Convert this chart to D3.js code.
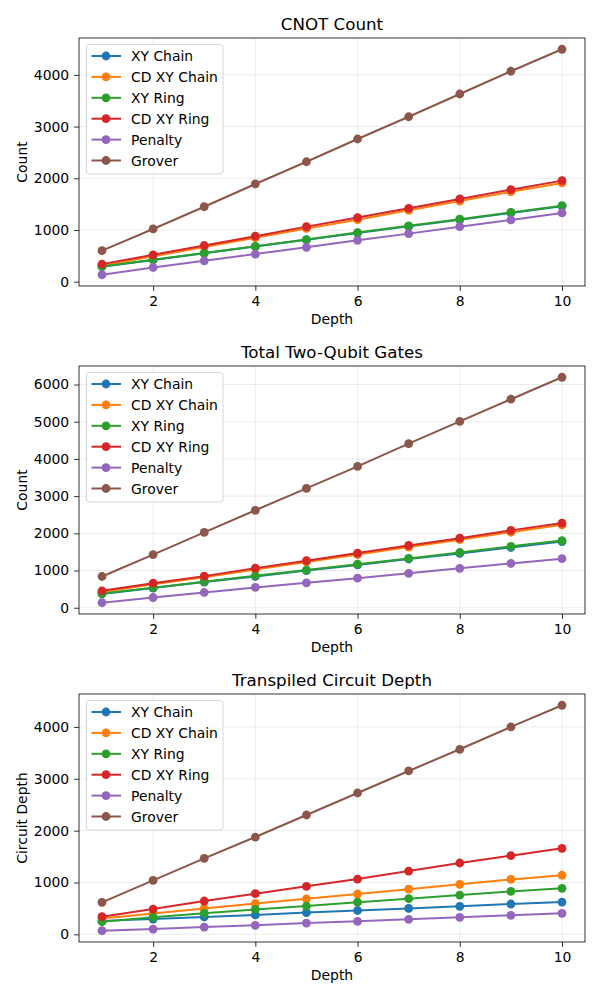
<!DOCTYPE html>
<html>
<head>
<meta charset="utf-8">
<script src="https://cdn.jsdelivr.net/npm/d3@7"></script>
<style>
  body { margin: 0; background: #fff; }
  svg { display: block; font-family: "DejaVu Sans", sans-serif; }
</style>
</head>
<body>
<div id="chart"></div>
<script>
// x values shared by all panels
const depths = [1, 2, 3, 4, 5, 6, 7, 8, 9, 10];
const seriesNames = ["XY Chain", "CD XY Chain", "XY Ring", "CD XY Ring", "Penalty", "Grover"];
const seriesColors = ["#1f77b4", "#ff7f0e", "#2ca02c", "#d62728", "#9467bd", "#8c564b"];
const xTicks = [2, 4, 6, 8, 10];

// CNOT Count
const cnotXYChain   = [290, 420, 550, 680, 810, 940, 1070, 1200, 1330, 1460];
const cnotCDXYChain = [310, 490, 670, 850, 1030, 1200, 1380, 1560, 1740, 1910];
const cnotXYRing    = [295, 425, 555, 685, 815, 950, 1080, 1210, 1340, 1470];
const cnotCDXYRing  = [340, 520, 700, 880, 1065, 1240, 1420, 1600, 1780, 1955];
const cnotPenalty   = [135, 275, 405, 535, 665, 800, 930, 1065, 1195, 1330];
const cnotGrover    = [600, 1020, 1450, 1890, 2320, 2760, 3190, 3630, 4070, 4495];
const cnotTicks = [0, 1000, 2000, 3000, 4000];

// Total Two-Qubit Gates
const twoqXYChain   = [370, 530, 690, 840, 1000, 1150, 1310, 1460, 1620, 1780];
const twoqCDXYChain = [420, 630, 820, 1030, 1230, 1430, 1630, 1830, 2030, 2230];
const twoqXYRing    = [380, 540, 700, 860, 1015, 1170, 1325, 1485, 1650, 1805];
const twoqCDXYRing  = [455, 660, 850, 1065, 1265, 1470, 1675, 1870, 2080, 2275];
const twoqPenalty   = [135, 275, 410, 545, 670, 795, 925, 1060, 1190, 1320];
const twoqGrover    = [840, 1430, 2025, 2620, 3210, 3800, 4410, 5010, 5605, 6195];
const twoqTicks = [0, 1000, 2000, 3000, 4000, 5000, 6000];

// Transpiled Circuit Depth
const depthXYChain   = [260, 295, 335, 375, 420, 460, 500, 540, 585, 623];
const depthCDXYChain = [305, 400, 500, 595, 685, 778, 872, 965, 1060, 1140];
const depthXYRing    = [243, 328, 405, 480, 546, 620, 687, 757, 828, 887];
const depthCDXYRing  = [340, 488, 643, 784, 926, 1067, 1221, 1376, 1517, 1659];
const depthPenalty   = [70, 102, 141, 174, 218, 251, 289, 328, 367, 405];
const depthGrover    = [617, 1042, 1466, 1877, 2302, 2726, 3151, 3569, 4000, 4418];
const depthTicks = [0, 1000, 2000, 3000, 4000];

const panels = [
  {title: "CNOT Count", ylabel: "Count", top: 38, ticks: cnotTicks,
   series: [cnotXYChain, cnotCDXYChain, cnotXYRing, cnotCDXYRing, cnotPenalty, cnotGrover]},
  {title: "Total Two-Qubit Gates", ylabel: "Count", top: 366, ticks: twoqTicks,
   series: [twoqXYChain, twoqCDXYChain, twoqXYRing, twoqCDXYRing, twoqPenalty, twoqGrover]},
  {title: "Transpiled Circuit Depth", ylabel: "Circuit Depth", top: 694, ticks: depthTicks,
   series: [depthXYChain, depthCDXYChain, depthXYRing, depthCDXYRing, depthPenalty, depthGrover]}
];

const width = 600, height = 1000;
const left = 79, right = 585, panelHeight = 248;
const fontSize = 13.9;

const svg = d3.select("#chart").append("svg")
  .attr("width", width)
  .attr("height", height);

// matplotlib-style 5% margins
function padded(lo, hi) {
  const pad = (hi - lo) * 0.05;
  return [lo - pad, hi + pad];
}

panels.forEach(function (p) {
  const top = p.top, bottom = p.top + panelHeight;
  const all = p.series.flat();

  const x = d3.scaleLinear()
    .domain(padded(d3.min(depths), d3.max(depths)))
    .range([left, right]);
  const y = d3.scaleLinear()
    .domain(padded(d3.min(all), d3.max(all)))
    .range([bottom, top]);

  const g = svg.append("g");

  // grid
  g.append("g").selectAll("line.gx")
    .data(xTicks).join("line")
    .attr("x1", d => x(d)).attr("x2", d => x(d))
    .attr("y1", top).attr("y2", bottom)
    .attr("stroke", "#b0b0b0").attr("stroke-opacity", 0.3).attr("stroke-width", 0.8);
  g.append("g").selectAll("line.gy")
    .data(p.ticks).join("line")
    .attr("x1", left).attr("x2", right)
    .attr("y1", d => y(d)).attr("y2", d => y(d))
    .attr("stroke", "#b0b0b0").attr("stroke-opacity", 0.3).attr("stroke-width", 0.8);

  // lines + markers
  const line = d3.line()
    .x((d, i) => x(depths[i]))
    .y(d => y(d));

  p.series.forEach(function (vals, si) {
    g.append("path")
      .datum(vals)
      .attr("fill", "none")
      .attr("stroke", seriesColors[si])
      .attr("stroke-width", 2)
      .attr("d", line);
    g.append("g").selectAll("circle")
      .data(vals).join("circle")
      .attr("cx", (d, i) => x(depths[i]))
      .attr("cy", d => y(d))
      .attr("r", 4.4)
      .attr("fill", seriesColors[si]);
  });

  // axes
  const xAxis = d3.axisBottom(x).tickValues(xTicks).tickSize(4.9).tickPadding(4.9);
  const yAxis = d3.axisLeft(y).tickValues(p.ticks).tickSize(4.9).tickPadding(4.9).tickFormat(d3.format("d"));

  const xg = g.append("g").attr("transform", "translate(0," + bottom + ")").call(xAxis);
  const yg = g.append("g").attr("transform", "translate(" + left + ",0)").call(yAxis);
  [xg, yg].forEach(function (ax) {
    ax.select(".domain").remove();
    ax.selectAll("text").attr("font-size", fontSize).attr("fill", "#000")
      .attr("font-family", "DejaVu Sans");
    ax.selectAll("line").attr("stroke", "#000").attr("stroke-width", 0.8);
  });

  // frame
  g.append("rect")
    .attr("x", left).attr("y", top)
    .attr("width", right - left).attr("height", panelHeight)
    .attr("fill", "none").attr("stroke", "#000").attr("stroke-width", 0.8);

  // title and axis labels
  g.append("text")
    .attr("x", (left + right) / 2).attr("y", top - 8.5)
    .attr("text-anchor", "middle")
    .attr("font-size", 16.7)
    .text(p.title);

  g.append("text")
    .attr("x", (left + right) / 2).attr("y", bottom + 38)
    .attr("text-anchor", "middle")
    .attr("font-size", fontSize)
    .text("Depth");

  g.append("text")
    .attr("transform", "translate(27," + (top + bottom) / 2 + ") rotate(-90)")
    .attr("text-anchor", "middle")
    .attr("font-size", fontSize)
    .text(p.ylabel);

  // legend
  const lx = left + 7.5, ly = top + 6.5;
  const leg = g.append("g").attr("transform", "translate(" + lx + "," + ly + ")");
  leg.append("rect")
    .attr("width", 136.5).attr("height", 129.5)
    .attr("rx", 3).attr("ry", 3)
    .attr("fill", "#fff").attr("fill-opacity", 0.8)
    .attr("stroke", "#cccccc").attr("stroke-opacity", 0.8).attr("stroke-width", 1);

  seriesNames.forEach(function (name, si) {
    const ry = 11.5 + si * 20.9;
    leg.append("line")
      .attr("x1", 5).attr("x2", 34.5)
      .attr("y1", ry).attr("y2", ry)
      .attr("stroke", seriesColors[si]).attr("stroke-width", 2);
    leg.append("circle")
      .attr("cx", 19.5).attr("cy", ry).attr("r", 4.4)
      .attr("fill", seriesColors[si]);
    leg.append("text")
      .attr("x", 44.5).attr("y", ry + 5)
      .attr("font-size", fontSize)
      .text(name);
  });
});
</script>
</body>
</html>
